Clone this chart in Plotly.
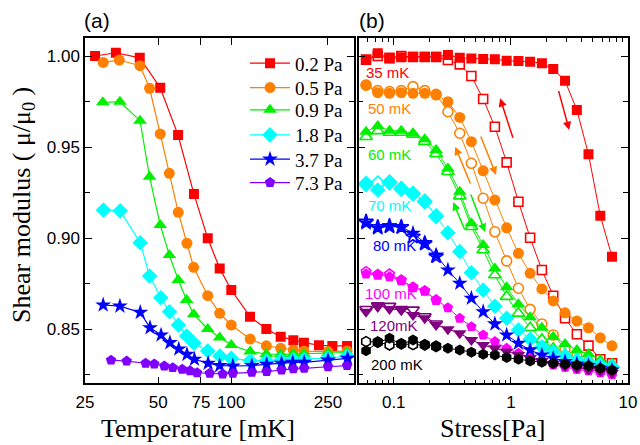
import plotly.graph_objects as go

# ---------------- Panel (a): modulus vs temperature ----------------
T_02 = [27.5, 33.5, 42, 51, 60.4, 70.2, 80, 89.6, 100, 119.4, 139.4, 159.7, 180, 199, 229.6, 260.5, 299.5]
M_02 = [1.000, 1.0018, 0.999, 0.9826, 0.9566, 0.9242, 0.8999, 0.8834, 0.8715, 0.8569, 0.8501, 0.8459, 0.844, 0.8426, 0.8412, 0.8408, 0.8408]
T_05 = [29.7, 34.6, 42.1, 46.1, 51, 55.6, 60.5, 65.7, 70, 80, 89.6, 100, 119.6, 139.4, 159.7, 180, 199, 250, 299.5]
M_05 = [0.9965, 0.9978, 0.9947, 0.9823, 0.9572, 0.9356, 0.9142, 0.8972, 0.884, 0.8684, 0.8587, 0.8523, 0.8446, 0.8409, 0.8395, 0.8386, 0.838, 0.8377, 0.838]
T_09 = [29.6, 34.8, 42.1, 46.1, 51, 55.6, 60.5, 65.5, 70, 80, 89.6, 100, 119.6, 139.4, 159.7, 180, 199, 250, 299.5]
M_09 = [0.9746, 0.9749, 0.9645, 0.9337, 0.9072, 0.8907, 0.877, 0.866, 0.8582, 0.8501, 0.8454, 0.8413, 0.8377, 0.8364, 0.8362, 0.8364, 0.8364, 0.8368, 0.8372]
T_18 = [29.8, 34.9, 42.2, 46.1, 51.3, 55.7, 60.6, 65.5, 70.2, 80, 89.8, 100, 119.6, 139.4, 159.7, 180, 199, 250, 299.5]
M_18 = [0.9154, 0.915, 0.8975, 0.8792, 0.8673, 0.8596, 0.8523, 0.8463, 0.8423, 0.838, 0.8353, 0.834, 0.8327, 0.8327, 0.833, 0.8333, 0.8333, 0.8342, 0.8353]
T_37 = [29.7, 34.8, 42.2, 46.3, 51.4, 55.9, 60.8, 65.7, 70.5, 80.3, 89.6, 101.5, 121.5, 139.8, 161, 179, 199.5, 250, 301]
M_37 = [0.8633, 0.8627, 0.8592, 0.8508, 0.8468, 0.8426, 0.8391, 0.8362, 0.8335, 0.8313, 0.830, 0.8298, 0.830, 0.8307, 0.8313, 0.8318, 0.8318, 0.833, 0.834]
T_73 = [32, 37.1, 44.4, 48.2, 53, 57.4, 62.8, 67.6, 72.3, 81.5, 92.2, 101.5, 121.5, 139.8, 161, 180, 199.5, 250, 299.5]
M_73 = [0.833, 0.8325, 0.8313, 0.8309, 0.8298, 0.8289, 0.828, 0.8272, 0.8261, 0.8258, 0.8254, 0.8258, 0.8263, 0.8267, 0.8276, 0.8282, 0.8285, 0.8294, 0.830]
LEGEND_NAMES = ["0.2 Pa", "0.5 Pa", "0.9 Pa", "1.8 Pa", "3.7 Pa", "7.3 Pa"]
T_TICKS = [25, 50, 75, 100, 250]

# ---------------- Panel (b): modulus vs stress ----------------
STRESS = [0.058, 0.073, 0.092, 0.116, 0.146, 0.184, 0.23, 0.29, 0.366, 0.46, 0.58, 0.73,
          0.92, 1.16, 1.46, 1.84, 2.3, 2.9, 3.66, 4.6, 5.8, 7.3]
TEMP_LABELS = ["35 mK", "50 mK", "60 mK", "70 mK", "80 mK", "100 mK", "120mK", "200 mK"]
# filled = increasing stress, open = decreasing stress
UP_35 = [0.9978, 1.0015, 0.9987, 0.9993, 0.9996, 0.9996, 0.9996, 1.0005, 0.9991, 0.9987, 0.9984, 0.9982,
         0.9974, 0.9973, 0.9969, 0.996, 0.9929, 0.9864, 0.9704, 0.946, 0.9123, 0.8898]
DN_35 = [0.998, 1.0, 0.999, 1.0, 0.9995, 0.9995, 0.9995, 0.9978, 0.9954, 0.989, 0.9764, 0.9612,
         0.9416, 0.920, 0.9002, 0.8825, 0.8684, 0.856, 0.8472, 0.841, 0.8335, 0.8313]
UP_50 = [0.9841, 0.9799, 0.9795, 0.9799, 0.9795, 0.9795, 0.9786, 0.9749, 0.9663, 0.953, 0.937, 0.9209,
         0.9057, 0.8917, 0.8807, 0.8721, 0.8655, 0.859, 0.8545, 0.8508, 0.8453, 0.8409]
DN_50 = [0.984, 0.981, 0.9805, 0.981, 0.9832, 0.981, 0.979, 0.9694, 0.9576, 0.9411, 0.9219, 0.9035,
         0.8875, 0.8725, 0.8609, 0.8529, 0.8468, 0.8392, 0.835, 0.8322, 0.8294, 0.8276]
UP_60 = [0.9584, 0.9616, 0.959, 0.959, 0.9576, 0.9543, 0.9484, 0.9383, 0.9255, 0.9082, 0.8962, 0.8834,
         0.873, 0.8637, 0.8565, 0.8508, 0.8459, 0.8419, 0.8386, 0.8364, 0.8331, 0.8313]
DN_60 = [0.9557, 0.9589, 0.958, 0.958, 0.957, 0.953, 0.9463, 0.9365, 0.9231, 0.9063, 0.8935, 0.8798,
         0.8679, 0.8587, 0.8508, 0.8444, 0.8395, 0.8362, 0.834, 0.8322, 0.8313, 0.8298]
UP_70 = [0.9301, 0.9264, 0.931, 0.9274, 0.9246, 0.9204, 0.9122, 0.903, 0.8926, 0.881, 0.8715, 0.8626,
         0.856, 0.8496, 0.8445, 0.8404, 0.8377, 0.8353, 0.8331, 0.8318, 0.8304, 0.8294]
DN_70 = [0.9296, 0.9301, 0.9305, 0.927, 0.9244, 0.920, 0.912]
UP_80 = [0.9082, 0.9054, 0.9067, 0.9063, 0.9027, 0.8975, 0.8907, 0.8825, 0.8752, 0.867, 0.8596, 0.8529,
         0.8468, 0.8423, 0.8386, 0.8358, 0.834, 0.8322, 0.8309, 0.830, 0.8285, 0.8276]
DN_80 = [0.909, 0.906, 0.9065, 0.906, 0.9008, 0.897, 0.890]
UP_100 = [0.8803, 0.8798, 0.8788, 0.8766, 0.873, 0.8711, 0.866, 0.8618, 0.856, 0.8514, 0.8468, 0.8432,
          0.8395, 0.8368, 0.834, 0.8322, 0.8304, 0.8291, 0.828, 0.8272, 0.8261, 0.8249]
DN_100 = [0.8816, 0.880, 0.8803, 0.877, 0.873, 0.871, 0.866]
UP_120 = [0.8596, 0.8633, 0.8611, 0.8606, 0.8578, 0.856, 0.8523, 0.850, 0.8478, 0.8441, 0.8413, 0.8395,
          0.8377, 0.8358, 0.8342, 0.8325, 0.8309, 0.8298, 0.8287, 0.8279, 0.827, 0.826]
DN_120 = [0.861, 0.8627, 0.8627, 0.861, 0.8606, 0.857, 0.853]
UP_200 = [0.8382, 0.8426, 0.845, 0.8417, 0.8441, 0.8417, 0.8409, 0.8395, 0.8386, 0.8373, 0.8362, 0.8358,
          0.8344, 0.8335, 0.8326, 0.8318, 0.8313, 0.8309, 0.8304, 0.830, 0.8285, 0.8276]
DN_200 = [0.8432, 0.843, 0.8413, 0.842, 0.8415, 0.8413, 0.8405]
S_TICKS = [0.1, 1, 10]
S_MINOR = [0.05, 0.06, 0.07, 0.08, 0.09, 0.2, 0.3, 0.4, 0.5, 0.6, 0.7, 0.8, 0.9,
           2, 3, 4, 5, 6, 7, 8, 9]
Y_TICKS = [0.85, 0.90, 0.95, 1.00]
Y_MINOR = [0.825, 0.875, 0.925, 0.975]

RED, ORANGE, GREEN, CYAN = "#FF0000", "#FF8000", "#00F000", "#00FFFF"
BLUE, VIOLET, MAGENTA, PURPLE, BLACK = "#0000FF", "#7F00FF", "#FF00FF", "#800080", "#000000"

W, H = 640, 445
fig = go.Figure()

left_series = [
    (T_02, M_02, RED, "square", 10),
    (T_05, M_05, ORANGE, "circle", 11),
    (T_09, M_09, GREEN, "triangle-up", 12),
    (T_18, M_18, CYAN, "diamond", 12),
    (T_37, M_37, BLUE, "star", 12),
    (T_73, M_73, VIOLET, "pentagon", 11),
]
legend_ids = ["legend", "legend2", "legend3", "legend4", "legend5", "legend6"]
for (xs, ys, col, sym, sz), name, lid in zip(left_series, LEGEND_NAMES, legend_ids):
    fig.add_trace(go.Scatter(
        x=xs, y=ys, mode="lines+markers", name=name, legend=lid,
        line=dict(color=col, width=1.2),
        marker=dict(symbol=sym, size=sz, color=col, line=dict(width=0)),
        xaxis="x", yaxis="y", showlegend=True))

right_series = [
    (UP_35, DN_35, RED, "square", 10),
    (UP_50, DN_50, ORANGE, "circle", 11),
    (UP_60, DN_60, GREEN, "triangle-up", 12),
    (UP_70, DN_70, CYAN, "diamond", 12),
    (UP_80, DN_80, BLUE, "star", 12),
    (UP_100, DN_100, MAGENTA, "pentagon", 11),
    (UP_120, DN_120, PURPLE, "triangle-down", 12),
    (UP_200, DN_200, BLACK, "hexagon", 11),
]
for up, dn, col, sym, sz in right_series:
    fig.add_trace(go.Scatter(
        x=STRESS[:len(dn)], y=dn, mode="lines+markers",
        line=dict(color=col, width=1),
        marker=dict(symbol=sym, size=sz - 1, color="white", line=dict(color=col, width=1.6)),
        xaxis="x2", yaxis="y2", showlegend=False))
    fig.add_trace(go.Scatter(
        x=STRESS, y=up, mode="lines+markers",
        line=dict(color=col, width=1),
        marker=dict(symbol=sym, size=sz, color=col, line=dict(width=0)),
        xaxis="x2", yaxis="y2", showlegend=False))

label_pos = [(-1.258, 0.9912), (-1.241, 0.9713), (-1.241, 0.9457), (-1.241, 0.9182),
             (-1.198, 0.8962), (-1.264, 0.8697), (-1.218, 0.8523), (-1.213, 0.8309)]
label_cols = [RED, ORANGE, GREEN, CYAN, BLUE, MAGENTA, PURPLE, BLACK]
annotations = []
for txt, (lx, ly), col in zip(TEMP_LABELS, label_pos, label_cols):
    annotations.append(dict(x=lx, y=ly, xref="x2", yref="y2", text=txt, showarrow=False,
                            xanchor="left", yanchor="middle",
                            font=dict(family="Liberation Sans, Arial", size=15, color=col)))

arrows = [  # (tail_x, tail_y, head_x, head_y, colour) in log10(stress), modulus
    (0.0213, 0.9543, -0.0919, 0.9768, RED),
    (0.404, 0.9817, 0.498, 0.9594, RED),
    (-0.341, 0.9292, -0.475, 0.9502, ORANGE),
    (-0.262, 0.9566, -0.126, 0.9347, ORANGE),
    (-0.390, 0.9039, -0.492, 0.9198, GREEN),
    (-0.347, 0.9248, -0.220, 0.9034, GREEN),
]
for tx, ty, hx, hy, col in arrows:
    annotations.append(dict(x=hx, y=hy, ax=tx, ay=ty, xref="x2", yref="y2", axref="x2", ayref="y2",
                            text="", showarrow=True, arrowhead=2, arrowsize=1.1, arrowwidth=1.5,
                            arrowcolor=col))

serif = "Liberation Serif, Times New Roman, serif"
sans = "Liberation Sans, Arial, sans-serif"
ctr = dict(xref="paper", yref="paper", showarrow=False, xanchor="center", yanchor="middle")
annotations += [
    dict(x=96.5 / W, y=1 - 20 / H, text="(a)", font=dict(family=sans, size=21, color="black"), **ctr),
    dict(x=371.5 / W, y=1 - 20 / H, text="(b)", font=dict(family=sans, size=21, color="black"), **ctr),
    dict(x=198 / W, y=1 - 428 / H, text="Temperature [mK]",
         font=dict(family=serif, size=26, color="black"), **ctr),
    dict(x=492 / W, y=1 - 428 / H, text="Stress[Pa]",
         font=dict(family=serif, size=26, color="black"), **ctr),
    dict(x=23 / W, y=1 - 205 / H, text="Shear modulus ( μ/μ<sub>0</sub> )", textangle=-90,
         font=dict(family=serif, size=26, color="black"), **ctr),
]

axis_common = dict(showline=True, linecolor="black", linewidth=1.5, mirror="ticks",
                   ticks="inside", ticklen=7, tickwidth=1.2, tickcolor="black",
                   showgrid=False, zeroline=False, automargin=False,
                   tickfont=dict(family=sans, size=17, color="black"))

yr = [0.8203, 1.0099]
layout = dict(
    width=W, height=H,
    margin=dict(l=0, r=0, t=0, b=0, autoexpand=False),
    paper_bgcolor="white", plot_bgcolor="white",
    xaxis=dict(type="log", domain=[85 / W, 354 / W], range=[1.39794, 2.505],
               tickmode="array", tickvals=T_TICKS, ticktext=[str(t) for t in T_TICKS],
               anchor="y", ticklabelstandoff=3, **axis_common),
    yaxis=dict(domain=[1 - 383.3 / H, 1 - 38 / H], range=yr,
               tickmode="array", tickvals=Y_TICKS, ticktext=["%.2f" % v for v in Y_TICKS],
               minor=dict(tickmode="array", tickvals=Y_MINOR, ticks="inside", ticklen=5,
                          tickcolor="black", tickwidth=1.2),
               anchor="x", **axis_common),
    xaxis2=dict(type="log", domain=[358.5 / W, 628 / W], range=[-1.301, 1.0],
                tickmode="array", tickvals=S_TICKS, ticktext=["0.1", "1", "10"],
                minor=dict(tickmode="array", tickvals=S_MINOR, ticks="inside", ticklen=4,
                           tickcolor="black", tickwidth=1),
                anchor="y2", ticklabelstandoff=3, **axis_common),
    yaxis2=dict(domain=[1 - 383.3 / H, 1 - 38 / H], range=yr,
                tickmode="array", tickvals=Y_TICKS, showticklabels=False,
                minor=dict(tickmode="array", tickvals=Y_MINOR, ticks="inside", ticklen=5,
                           tickcolor="black", tickwidth=1.2),
                anchor="x2", **axis_common),
    annotations=annotations,
    showlegend=True,
)
# one legend per row so that the row spacing matches the reference
row_centres = [63.3, 87.7, 110, 135, 159.3, 182.7]
for lid, yc in zip(legend_ids, row_centres):
    layout[lid] = dict(x=245 / W, y=1 - yc / H, xanchor="left", yanchor="middle",
                       bgcolor="rgba(0,0,0,0)", borderwidth=0,
                       font=dict(family=serif, size=19, color="black"),
                       itemwidth=40)
fig.update_layout(**layout)

fig.write_html("out.html", config={"displayModeBar": False},
               post_script="document.body.style.margin='0';"
               "document.body.style.padding='0';document.body.style.overflow='hidden';")
